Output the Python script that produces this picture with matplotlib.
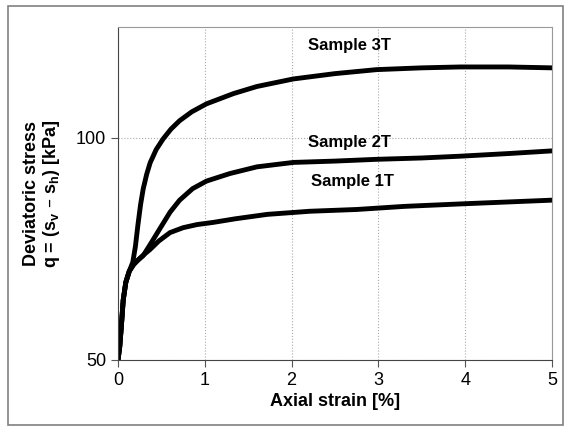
import matplotlib.pyplot as plt
from matplotlib.patches import Rectangle

plt.rcParams['font.family'] = ['Liberation Sans', 'DejaVu Sans']

strain_1t = [0.0, 0.02, 0.04, 0.06, 0.09, 0.13, 0.18, 0.23, 0.29, 0.37, 0.47, 0.6, 0.75, 0.91, 1.1, 1.35, 1.72, 2.21, 2.75, 3.3, 4.0, 4.5, 5.0]
stress_1t = [50, 53, 58, 63.5, 67.5, 70, 71.5, 72.5, 73.6, 74.9, 76.8, 78.7, 79.8, 80.5, 81.0, 81.8, 82.8, 83.5, 83.9, 84.6, 85.2, 85.6, 86.0]

strain_2t = [0.0, 0.02, 0.04, 0.06, 0.09, 0.13, 0.18, 0.23, 0.29, 0.38, 0.48, 0.6, 0.71, 0.86, 1.02, 1.29, 1.6, 2.02, 2.5, 2.98, 3.5, 3.94, 4.5, 5.0]
stress_2t = [50, 53, 58, 63.5, 67.5, 70, 71.5, 72.5, 73.5, 76.3, 79.5, 83.3, 86.0, 88.6, 90.3, 92.0, 93.5, 94.5, 94.8, 95.2, 95.5, 95.9, 96.5, 97.1]

strain_3t = [0.0, 0.02, 0.04, 0.06, 0.09, 0.13, 0.17, 0.2, 0.23, 0.26, 0.29, 0.33, 0.37, 0.44, 0.52, 0.61, 0.71, 0.85, 1.02, 1.33, 1.6, 2.02, 2.5, 2.98, 3.5, 3.94, 4.5, 5.0]
stress_3t = [50, 53, 58, 63.5, 67.5, 70, 72, 75.5, 80.5, 85, 88.5, 91.8, 94.4, 97.4, 99.8, 102.0, 103.9, 105.9, 107.7, 110, 111.6, 113.3, 114.5, 115.4, 115.8, 116.0, 116.0, 115.8]

labels = ['Sample 1T', 'Sample 2T', 'Sample 3T']
label_pos = [(2.7, 90.3), (2.67, 99.0), (2.67, 120.8)]

fig = plt.figure(figsize=(5.71, 4.30), dpi=100)
fig.patches.append(Rectangle((8 / 571, 5 / 430), 555 / 571, 419 / 430, transform=fig.transFigure,
                             fill=False, edgecolor='#808080', linewidth=1.2))
ax = fig.add_axes([118 / 571, 70 / 430, 434 / 571, 333 / 430])

for x, y in [(strain_1t, stress_1t), (strain_2t, stress_2t), (strain_3t, stress_3t)]:
    ax.plot(x, y, color='black', linewidth=3.5, solid_joinstyle='round', solid_capstyle='round')

for text, (x, y) in zip(labels, label_pos):
    ax.text(x, y, text, ha='center', va='center', fontsize=12, fontweight='bold')

ax.set_xlim(0, 5)
ax.set_ylim(50, 125)
ax.set_xticks([0, 1, 2, 3, 4, 5])
ax.set_yticks([50, 100])
ax.grid(True, color='#aaaaaa', linestyle=':', linewidth=0.8)
ax.tick_params(labelsize=13, direction='out', length=5, color='#555555')
for side in ['top', 'right']:
    ax.spines[side].set_color('#999999')
for side in ['left', 'bottom']:
    ax.spines[side].set_color('#444444')

ax.set_xlabel('Axial strain [%]', fontsize=13, fontweight='bold', labelpad=3)
ax.set_ylabel('Deviatoric stress\nq = (s$_\\mathregular{v}$ \u2013 s$_\\mathregular{h}$) [kPa]',
              fontsize=13, fontweight='bold', labelpad=10, linespacing=1.1)

fig.savefig('out.png', dpi=100)
